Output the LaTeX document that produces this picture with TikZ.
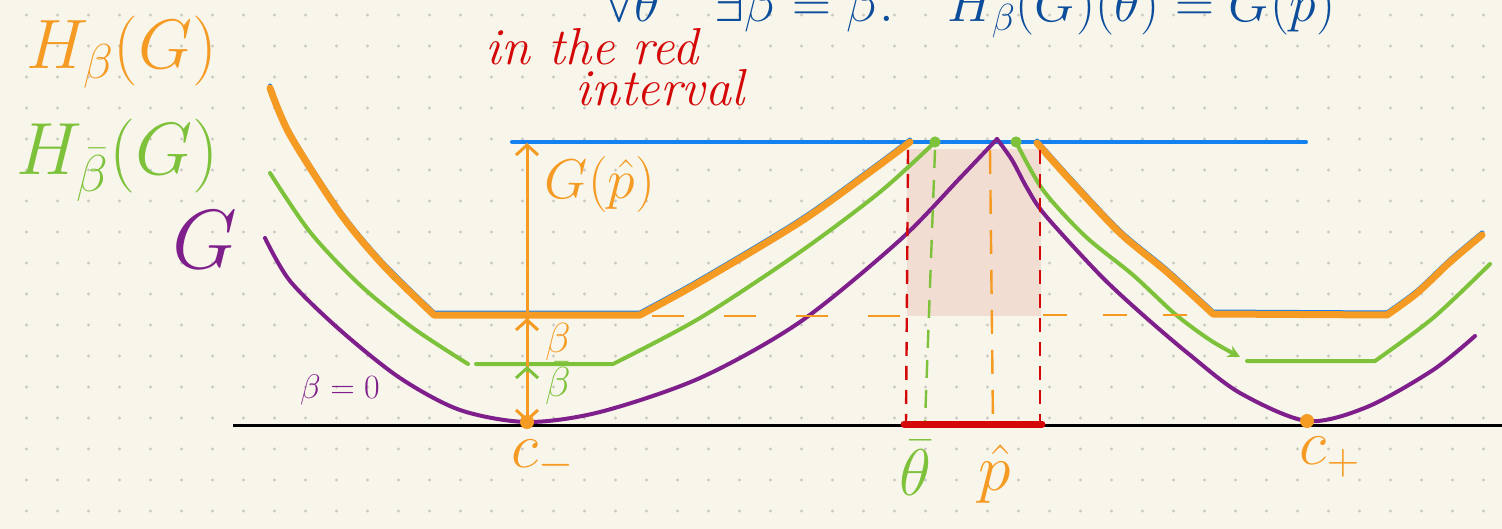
\RequirePackage{fix-cm}
\documentclass[tikz,border=0pt]{standalone}
\usepackage{amsmath}
\usetikzlibrary{arrows.meta}

\definecolor{paper}{HTML}{F8F6EA}
\definecolor{dotgrey}{HTML}{C9C9C4}
\definecolor{hbeta}{HTML}{F59A23}
\definecolor{hbar}{HTML}{7DC23A}
\definecolor{gpurple}{HTML}{7F1F8C}
\definecolor{gline}{HTML}{1580F0}
\definecolor{redint}{HTML}{D40808}
\definecolor{redfill}{HTML}{F2DDD2}
\definecolor{ink}{HTML}{0B4C9B}

\tikzset{
  curve/.style={line width=2pt, line cap=round, line join=round},
  fatcurve/.style={line width=3.5pt, line cap=round, line join=round},
  barb/.style={-{Straight Barb[length=5pt,width=11pt]}},
  hand/.style={font=\fontsize{#1}{#1}\selectfont},
  handit/.style={font=\itshape\fontsize{#1}{#1}\selectfont},
}

% orange envelope H_beta(G), left and right halves
\newcommand{\hbleft}{plot[smooth] coordinates {(270,88) (290,135) (340,213) (383,265) (434,315)}
  -- plot[smooth] coordinates {(640,315) (700,282) (800,222) (870,172) (910,142)}}
\newcommand{\hbright}{plot[smooth] coordinates {(1037,143) (1070,180) (1120,233) (1167,272) (1213,314)}
  -- plot[smooth] coordinates {(1387,315) (1417,293) (1450,262) (1482,235)}}

\begin{document}
\begin{tikzpicture}[x=0.5pt, y=-0.5pt]
  \useasboundingbox (0,0) rectangle (1502,529);
  \clip (0,0) rectangle (1502,529);
  \fill[paper] (0,0) rectangle (1502,529);
  % dot grid
  \foreach \i in {0,...,47}
    \foreach \j in {0,...,16}
      \fill[dotgrey] (26.5+31*\i,15+31*\j) circle (0.8pt);

  % points on the axis
  \coordinate (cminus) at (527,422);
  \coordinate (cplus) at (1307,421);
  \coordinate (gtop) at (527,143);

  % red interval
  \fill[redfill] (907,149) rectangle (1041,316);
  \draw[line width=1.5pt] (233,425) -- (1502,425);
  \draw[gline, line width=2pt, line cap=round] (512,142) -- (1306,142);

  % G
  \draw[gpurple, curve] plot[smooth] coordinates {(265,238) (290,281) (340,330) (400,378) (460,410)
    (527,422) (600,412) (700,378) (800,322) (900,240) (960,178) (997,139)};
  \draw[gpurple, curve] plot[smooth] coordinates {(997,139) (1012,160) (1027,188) (1045,215) (1100,275)
    (1143,315) (1190,355) (1240,393) (1307,421) (1367,407) (1433,370) (1475,336)};

  % H_betabar(G)
  \draw[hbar, curve] plot[smooth] coordinates {(270,173) (310,232) (360,285) (413,328) (468,364)};
  \draw[hbar, curve] (476,364) -- plot[smooth] coordinates {(613,364) (700,318) (800,252) (880,192) (935,142)};
  \draw[hbar, curve, -{Stealth[length=6pt,width=6pt]}] plot[smooth] coordinates {(1016,142) (1043,190)
    (1085,236) (1133,275) (1175,314) (1210,340) (1240,357)};
  \draw[hbar, curve] (1247,361) -- plot[smooth] coordinates {(1375,361) (1433,318) (1490,264)};
  \fill[hbar] (935,142) circle (2.8pt);
  \fill[hbar] (1016,142) circle (2.8pt);

  % H_beta(G)
  \draw[gline, line width=2pt, line cap=round, shift={(0,-2.5)}] \hbleft;
  \draw[gline, line width=2pt, line cap=round, shift={(0,-2.5)}] \hbright;
  \draw[hbeta, fatcurve] \hbleft;
  \draw[hbeta, fatcurve] \hbright;
  \draw[hbeta, line width=1pt, dash pattern=on 16pt off 20pt] (652,316) -- (905,316);
  \draw[hbeta, line width=1pt, dash pattern=on 12pt off 18pt] (1043,315) -- (1212,315);

  % dashed verticals
  \draw[redint, line width=1.2pt, dash pattern=on 7pt off 5pt] (908,150) -- (906,423);
  \draw[redint, line width=1.2pt, dash pattern=on 7pt off 5pt] (1040,150) -- (1040,423);
  \draw[hbar, line width=1.2pt, dash pattern=on 9pt off 6pt] (935,150) -- (925,422);
  \draw[hbeta, line width=1.2pt, dash pattern=on 12pt off 8pt] (990,150) -- (993,425);
  \draw[redint, line width=3.5pt, line cap=round] (904,424) -- (1042,424);

  % arrows at c_-
  \draw[hbeta, line width=1.5pt, {Straight Barb[length=5pt,width=11pt]}-{Straight Barb[length=5pt,width=11pt]}] (cminus) -- (gtop);
  \draw[hbeta, line width=1.5pt, barb] (527,345) -- (527,318);
  \draw[hbar, line width=1.5pt, barb] (527,372) -- (527,366);
  \fill[hbeta] (cminus) circle (3.5pt);
  \fill[hbeta] (cplus) circle (3.5pt);

  % labels
  \node[text=ink, hand=27, anchor=base] (claim) at (970,22)
    {$\forall\bar\theta\quad\exists\beta=\bar\beta.\quad H_\beta(G)(\bar\theta)=G(\hat p)$};
  \node[text=redint, handit=26] (redtxt) at (592,47) {in the red};
  \node[text=redint, handit=26] (redtxtb) at (660,88) {interval};
  \node[text=hbeta, hand=35] (lblHb) at (122,52) {$H_\beta(G)$};
  \node[text=hbar, hand=37] (lblHbb) at (118,160) {$H_{\bar\beta}(G)$};
  \node[text=gpurple, hand=42] (lblG) at (205,240) {$G$};
  \node[text=hbeta, hand=28] (lblGp) at (600,185) {$G(\hat p)$};
  \node[text=hbeta, hand=21] (lblb) at (558,342) {$\beta$};
  \node[text=hbar, hand=21] (lblbb) at (558,383) {$\bar\beta$};
  \node[text=gpurple, hand=17] (lblzero) at (340,390) {$\beta=0$};
  \node[text=hbeta, hand=32] (lblcm) at (543,460) {$c_-$};
  \node[text=hbeta, hand=32] (lblcp) at (1330,457) {$c_+$};
  \node[text=hbar, hand=33] (lbltheta) at (915,468) {$\bar\theta$};
  \node[text=hbeta, hand=33] (lblp) at (995,474) {$\hat p$};
\end{tikzpicture}
\end{document}
